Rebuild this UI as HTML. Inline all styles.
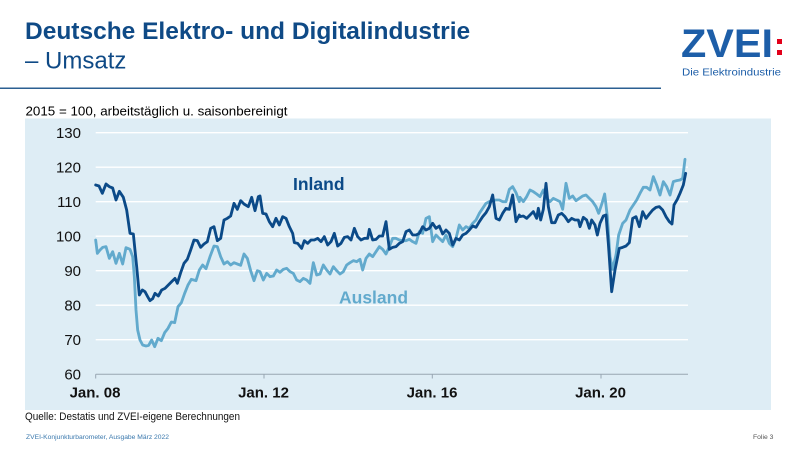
<!DOCTYPE html>
<html>
<head>
<meta charset="utf-8">
<style>
  html, body { margin: 0; padding: 0; background: #ffffff; }
  body { width: 800px; height: 450px; overflow: hidden; }
  svg { display: block; font-family: "Liberation Sans", Arial, sans-serif; }
</style>
</head>
<body>
<svg width="800" height="450" viewBox="0 0 800 450" xmlns="http://www.w3.org/2000/svg">
  <rect x="0" y="0" width="800" height="450" fill="#ffffff"/>

  <!-- Title -->
  <text x="25" y="39" font-size="24.5" font-weight="bold" fill="#0f4a86">Deutsche Elektro- und Digitalindustrie</text>
  <text x="25" y="68.3" font-size="24" fill="#0f4a86">– Umsatz</text>

  <!-- Separator -->
  <line x1="0" y1="88.3" x2="661" y2="88.3" stroke="#2b5f92" stroke-width="1.5"/>

  <!-- Logo -->
  <text x="681" y="57" font-size="40" font-weight="bold" fill="#1d5ea8" textLength="92" lengthAdjust="spacingAndGlyphs">ZVEI</text>
  <rect x="777" y="39" width="5" height="5" fill="#e2001a"/>
  <rect x="777" y="50" width="5" height="5" fill="#e2001a"/>
  <text x="682" y="75.5" font-size="10.5" fill="#1d5ea8" textLength="99" lengthAdjust="spacingAndGlyphs">Die Elektroindustrie</text>

  <!-- Subtitle -->
  <text x="25.5" y="115.5" font-size="13" fill="#000000" textLength="262" lengthAdjust="spacingAndGlyphs">2015 = 100, arbeitstäglich u. saisonbereinigt</text>

  <!-- Chart background -->
  <rect x="25" y="118.5" width="746" height="291.5" fill="#deedf5"/>

  <!-- Gridlines -->
  <g stroke="#ffffff" stroke-width="1.4">
    <line x1="95.7" y1="132.7" x2="688" y2="132.7"/>
    <line x1="95.7" y1="167.2" x2="688" y2="167.2"/>
    <line x1="95.7" y1="201.7" x2="688" y2="201.7"/>
    <line x1="95.7" y1="236.2" x2="688" y2="236.2"/>
    <line x1="95.7" y1="270.7" x2="688" y2="270.7"/>
    <line x1="95.7" y1="305.2" x2="688" y2="305.2"/>
    <line x1="95.7" y1="339.7" x2="688" y2="339.7"/>
  </g>
  <!-- X axis -->
  <g stroke="#98a6b2" stroke-width="1">
    <line x1="95.7" y1="374.2" x2="688" y2="374.2"/>
    <line x1="95.7" y1="374.2" x2="95.7" y2="378.5"/>
    <line x1="264" y1="374.2" x2="264" y2="378.5"/>
    <line x1="432.3" y1="374.2" x2="432.3" y2="378.5"/>
    <line x1="601" y1="374.2" x2="601" y2="378.5"/>
  </g>

  <!-- Y labels -->
  <g font-size="15" fill="#111111" text-anchor="end">
    <text x="81" y="138">130</text>
    <text x="81" y="172.5">120</text>
    <text x="81" y="207">110</text>
    <text x="81" y="241.5">100</text>
    <text x="81" y="276">90</text>
    <text x="81" y="310.5">80</text>
    <text x="81" y="345">70</text>
    <text x="81" y="379.5">60</text>
  </g>

  <!-- X labels -->
  <g font-size="15" font-weight="bold" fill="#111111" text-anchor="middle">
    <text x="95" y="397.3">Jan. 08</text>
    <text x="263.5" y="397.3">Jan. 12</text>
    <text x="432" y="397.3">Jan. 16</text>
    <text x="600.5" y="397.3">Jan. 20</text>
  </g>

  <!-- Data (coordinates in 3x units) -->
  <g transform="scale(0.333333)" fill="none" stroke-linejoin="round" stroke-linecap="round">
    <polyline stroke="#62aacd" stroke-width="8.5" points="
287,720 292,760 300,750 308,742 318,740 328,775 338,755 348,790 358,760 368,792 378,743 390,748 398,770 403,830 408,930 413,990 420,1020 428,1035 438,1038 446,1036 455,1020 464,1040 474,1015 484,1022 494,998 504,985 514,966 524,968 534,920 544,908 554,880 564,855 574,838 588,842 598,810 608,795 618,806 630,770 642,738 652,740 662,770 672,792 682,785 692,795 702,788 712,792 722,796 732,762 742,775 752,812 762,842 772,812
780,815 790,840 800,820 810,830 820,828 830,810 840,817 850,808 860,805 870,815 880,820 890,840 900,845 910,835 920,840 930,850 940,788 950,825 960,822 970,795 980,810 990,822 1000,800 1010,812 1020,822 1030,815 1040,795 1050,788 1060,782 1070,785 1080,778 1088,810 1098,775 1108,762 1118,770 1128,755 1138,740 1148,748 1158,762 1168,740 1178,715 1188,715 1198,720 1208,722 1218,722 1228,718 1238,725 1248,730 1258,695 1268,700 1278,655 1288,650 1298,725 1308,705 1318,715 1328,725 1338,705 1348,730 1358,740 1368,715 1378,675 1388,690 1398,680 1408,685 1418,670 1428,660 1438,640 1448,625 1458,610 1468,605 1478,602 1488,600 1498,600 1508,605 1518,605 1528,568 1538,560 1548,578 1558,605
1560,592 1570,605 1580,590 1590,570 1600,575 1610,582 1620,590 1630,570 1640,595 1650,605 1660,595 1670,600 1680,605 1688,628 1698,550 1708,595 1718,588 1728,602 1738,595 1748,588 1758,585 1768,595 1778,605 1788,620 1796,640 1806,610 1814,582 1822,650 1830,770 1838,808 1848,765 1856,705 1868,670 1878,660 1890,630 1900,615 1910,600 1920,580 1930,562 1940,562 1950,570 1960,530 1970,555 1980,585 1990,545 2000,560 2010,585 2020,545 2030,542 2040,540 2048,535 2055,478"/>
    <polyline stroke="#0b4a88" stroke-width="8.5" points="
287,555 297,558 307,580 318,552 328,560 338,564 348,600 358,574 370,592 380,630 390,700 400,702 410,800 418,885 427,870 435,875 443,890 450,902 458,896 465,880 475,888 485,870 495,865 505,855 515,845 525,835 532,850 542,818 552,790 562,778 572,750 582,720 592,722 602,742 612,732 622,725 632,685 642,680 652,722 662,715 672,660 682,655 692,648 702,610 712,628 722,602 732,612 745,620 755,592 765,632 775,590
780,588 788,640 798,642 808,665 818,680 828,655 838,675 848,650 858,655 868,680 878,700 883,728 893,730 905,745 913,722 923,730 933,720 943,720 953,715 963,725 973,710 983,735 993,725 1003,700 1013,738 1023,730 1033,712 1043,710 1053,720 1063,685 1073,710 1083,720 1093,715 1103,715 1108,688 1118,720 1128,718 1138,708 1148,708 1158,665 1168,748 1178,742 1188,740 1198,730 1208,725 1218,695 1228,690 1238,705 1248,705 1258,700 1268,680 1278,690 1288,685 1298,670 1308,685 1318,678 1328,702 1338,690 1348,700 1358,735 1368,715 1378,720 1388,705 1398,700 1408,690 1418,678 1428,682 1438,665 1448,650 1458,638 1468,620 1478,585 1488,655 1498,660 1508,640 1518,625 1528,628 1538,585 1548,665 1558,645
1560,650 1570,648 1580,655 1590,645 1600,635 1610,655 1615,625 1622,660 1630,628 1638,550 1645,620 1655,668 1665,668 1675,645 1685,640 1695,650 1705,665 1715,655 1725,660 1735,660 1740,680 1750,652 1760,660 1768,685 1775,660 1785,675 1792,705 1800,670 1810,648 1818,645 1825,730 1835,875 1845,810 1858,745 1868,742 1878,738 1888,728 1898,655 1908,650 1918,680 1928,635 1938,655 1948,642 1958,630 1968,622 1978,620 1988,630 1998,650 2008,665 2016,672 2022,615 2032,598 2040,580 2050,555 2057,520"/>
  </g>

  <!-- Series labels -->
  <text x="293" y="190" font-size="17.5" font-weight="bold" fill="#0b4a88">Inland</text>
  <text x="339" y="303.3" font-size="17.5" font-weight="bold" fill="#62aacd">Ausland</text>

  <!-- Footer -->
  <text x="25" y="420" font-size="11" fill="#111111" textLength="215" lengthAdjust="spacingAndGlyphs">Quelle: Destatis und ZVEI-eigene Berechnungen</text>
  <text x="26" y="439" font-size="6.8" fill="#3a78ad" textLength="143" lengthAdjust="spacingAndGlyphs">ZVEI-Konjunkturbarometer, Ausgabe März 2022</text>
  <text x="753" y="439" font-size="6.8" fill="#555555">Folie 3</text>
</svg>
</body>
</html>
